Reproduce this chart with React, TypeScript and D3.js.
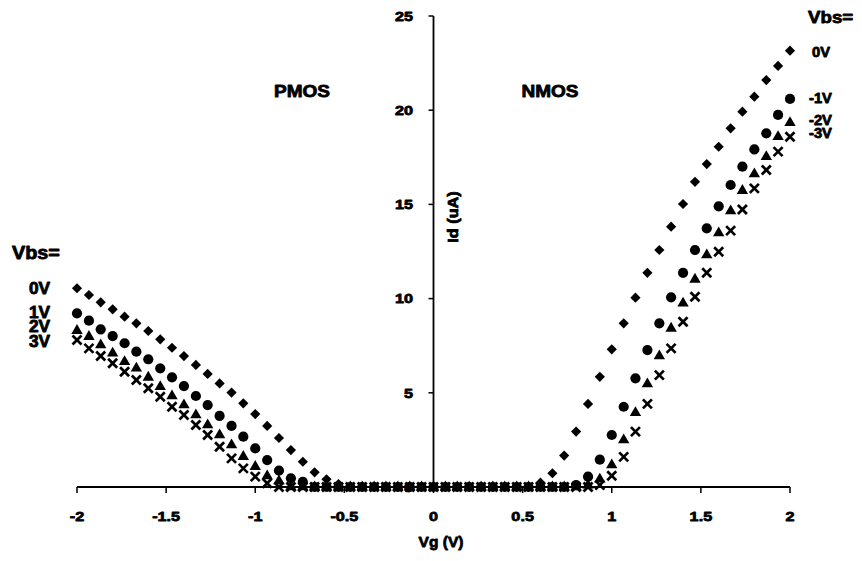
import React from "react";
import * as d3 from "d3";

// Gate voltage grid (V)
const vg = [
  -2, -1.933, -1.867, -1.8, -1.733, -1.667, -1.6, -1.533, -1.467, -1.4,
  -1.333, -1.267, -1.2, -1.133, -1.067, -1, -0.933, -0.867, -0.8, -0.733,
  -0.667, -0.6, -0.533, -0.467, -0.4, -0.333, -0.267, -0.2, -0.133, -0.067,
  0, 0.067, 0.133, 0.2, 0.267, 0.333, 0.4, 0.467, 0.533, 0.6,
  0.667, 0.733, 0.8, 0.867, 0.933, 1, 1.067, 1.133, 1.2, 1.267,
  1.333, 1.4, 1.467, 1.533, 1.6, 1.667, 1.733, 1.8, 1.867, 1.933, 2,
];

// Id (uA) for each series (PMOS Vbs=0V,1V,2V,3V on left; NMOS 0V,-1V,-2V,-3V on right)
const idVbs0 = [
  10.55, 10.19, 9.8, 9.43, 9.04, 8.69, 8.28, 7.84, 7.39, 6.95,
  6.48, 6.0, 5.5, 5.01, 4.44, 3.87, 3.24, 2.6, 1.96, 1.34,
  0.78, 0.41, 0.16, 0, 0, 0, 0, 0, 0, 0,
  0, 0, 0, 0, 0, 0, 0, 0, 0, 0.23,
  0.73, 1.67, 2.94, 4.41, 5.85, 7.31, 8.69, 10.05, 11.37, 12.58,
  13.82, 15.02, 16.2, 17.14, 18.06, 19.04, 19.92, 20.72, 21.6, 22.35, 23.16,
];
const idVbs1 = [
  9.22, 8.83, 8.37, 8.01, 7.63, 7.18, 6.78, 6.3, 5.82, 5.36,
  4.83, 4.35, 3.77, 3.24, 2.67, 2.05, 1.43, 0.87, 0.46, 0.27,
  0, 0, 0, 0, 0, 0, 0, 0, 0, 0,
  0, 0, 0, 0, 0, 0, 0, 0, 0, 0,
  0, 0, 0.1, 0.55, 1.45, 2.76, 4.26, 5.77, 7.27, 8.69,
  10.07, 11.37, 12.58, 13.73, 14.9, 16.03, 17.0, 17.92, 18.77, 19.75, 20.6,
];
const idVbs2 = [
  8.3, 7.98, 7.54, 7.1, 6.65, 6.3, 5.82, 5.32, 4.83, 4.35,
  3.82, 3.29, 2.76, 2.23, 1.61, 1.08, 0.58, 0.32, 0, 0,
  0, 0, 0, 0, 0, 0, 0, 0, 0, 0,
  0, 0, 0, 0, 0, 0, 0, 0, 0, 0,
  0, 0, 0, 0.1, 0.41, 1.17, 2.49, 3.94, 5.47, 6.95,
  8.42, 9.75, 11.02, 12.31, 13.48, 14.65, 15.73, 16.61, 17.53, 18.59, 19.33,
];
const idVbs3 = [
  7.8, 7.36, 6.95, 6.57, 6.12, 5.68, 5.24, 4.79, 4.26, 3.82,
  3.29, 2.76, 2.14, 1.52, 0.99, 0.55, 0.2, 0, 0, 0,
  0, 0, 0, 0, 0, 0, 0, 0, 0, 0,
  0, 0, 0, 0, 0, 0, 0, 0, 0, 0,
  0, 0, 0, 0, 0.1, 0.6, 1.6, 2.94, 4.41, 5.94,
  7.36, 8.77, 10.1, 11.37, 12.49, 13.61, 14.73, 15.85, 16.83, 17.8, 18.59,
];

const xTicks = [-2, -1.5, -1, -0.5, 0, 0.5, 1, 1.5, 2];
const xTickLabels = ["-2", "-1.5", "-1", "-0.5", "0", "0.5", "1", "1.5", "2"];
const yTicks = [0, 5, 10, 15, 20, 25];
const yTickLabels = ["0", "5", "10", "15", "20", "25"];

const leftLabels = ["0V", "1V", "2V", "3V"];
const rightLabels = ["0V", "-1V", "-2V", "-3V"];

const FONT = "'Liberation Sans', Arial, sans-serif";

function T({ x, y, children, size = 13, anchor = "start", sx = 1.15, rotate = 0 }: any) {
  return (
    <text
      transform={`translate(${x},${y}) rotate(${rotate}) scale(${sx},1)`}
      fontFamily={FONT}
      fontWeight="bold"
      fontSize={size}
      textAnchor={anchor}
      fill="#000"
      stroke="#000"
      strokeWidth={0.8}
      strokeLinejoin="round"
    >
      {children}
    </text>
  );
}

export default function App() {
  const W = 862, H = 561;
  const x = d3.scaleLinear().domain([-2, 2]).range([77, 790]);
  const y = d3.scaleLinear().domain([0, 25]).range([487, 16]);

  const diamond = d3.symbol().type(d3.symbolSquare).size(52)() as string;
  const circle = d3.symbol().type(d3.symbolCircle).size(82)() as string;
  const triangle = d3.symbol().type(d3.symbolTriangle).size(56)() as string;

  const pts = (arr: number[]) => arr.map((v, i) => [x(vg[i]), y(v)] as [number, number]);

  return (
    <svg width={W} height={H} style={{ position: "absolute", left: 0, top: 0, background: "#fff" }}>
      <rect width={W} height={H} fill="#fff" />
      {/* axes */}
      <line x1={x(-2)} x2={x(2)} y1={y(0)} y2={y(0)} stroke="#000" strokeWidth={1.8} />
      <line x1={x(0)} x2={x(0)} y1={y(0)} y2={y(25)} stroke="#000" strokeWidth={1.8} />
      {xTicks.map((t, i) => (
        <g key={"xt" + i}>
          <line x1={x(t)} x2={x(t)} y1={y(0)} y2={y(0) + 6} stroke="#000" strokeWidth={1.5} />
          <T x={x(t)} y={521} size={13.5} anchor="middle" sx={1.2}>{xTickLabels[i]}</T>
        </g>
      ))}
      {yTicks.map((t, i) => (
        <g key={"yt" + i}>
          <line x1={x(0) - 5} x2={x(0)} y1={y(t)} y2={y(t)} stroke="#000" strokeWidth={1.5} />
          <T x={413} y={y(t) + 4.8} size={13.5} anchor="end" sx={1.2}>{yTickLabels[i]}</T>
        </g>
      ))}

      {/* series */}
      {pts(idVbs0).map(([px, py], i) => (
        <path key={"d" + i} d={diamond} transform={`translate(${px},${py}) rotate(45)`} fill="#000" />
      ))}
      {pts(idVbs1).map(([px, py], i) => (
        <path key={"c" + i} d={circle} transform={`translate(${px},${py})`} fill="#000" />
      ))}
      {pts(idVbs2).map(([px, py], i) => (
        <path key={"t" + i} d={triangle} transform={`translate(${px},${py})`} fill="#000" />
      ))}
      {pts(idVbs3).map(([px, py], i) => (
        <g key={"x" + i} transform={`translate(${px},${py})`} stroke="#000" strokeWidth={2.7}>
          <line x1={-4.5} y1={-4.5} x2={4.5} y2={4.5} />
          <line x1={-4.5} y1={4.5} x2={4.5} y2={-4.5} />
        </g>
      ))}

      {/* titles */}
      <T x={302} y={97} size={17} anchor="middle" sx={1.12}>PMOS</T>
      <T x={550} y={97} size={17} anchor="middle" sx={1.12}>NMOS</T>
      <T x={458} y={217} size={15} anchor="middle" sx={1.08} rotate={-90}>Id (uA)</T>
      <T x={441} y={547} size={15.5} anchor="middle" sx={1.0}>Vg (V)</T>

      {/* left legend */}
      <T x={12} y={259} size={18} sx={1.1}>Vbs=</T>
      {leftLabels.map((l, i) => (
        <T key={"ll" + i} x={29} y={[294, 318, 332, 347][i]} size={16} sx={1.08}>{l}</T>
      ))}
      {/* right legend */}
      <T x={808} y={23} size={17} sx={1.1}>Vbs=</T>
      {rightLabels.map((l, i) => (
        <T key={"rl" + i} x={i === 0 ? 812 : 809} y={[57, 103, 125, 138][i]} size={14} sx={1.05}>{l}</T>
      ))}
    </svg>
  );
}
